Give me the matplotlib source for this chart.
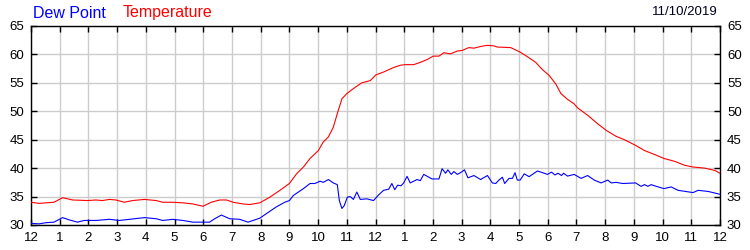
import matplotlib
matplotlib.use("Agg")
import matplotlib.pyplot as plt

plt.rcParams['font.family'] = ['Liberation Sans', 'DejaVu Sans']

# Hours since midnight and readings (deg F)
temp_hours = [0.0, 0.28, 0.80, 1.10, 1.45, 1.97, 2.26, 2.49, 2.73, 2.96, 3.25, 3.54, 3.95, 4.36, 4.59,
              4.94, 5.29, 5.64, 5.99, 6.28, 6.57, 6.81, 7.04, 7.39, 7.62, 7.97, 8.32, 8.67, 9.0, 9.25,
              9.49, 9.72, 10.01, 10.18, 10.36, 10.53, 10.67, 10.83, 11.0, 11.23, 11.52, 11.82, 12.01,
              12.28, 12.63, 12.87, 13.02, 13.33, 13.56, 13.80, 14.01, 14.21, 14.38, 14.61, 14.85,
              15.02, 15.25, 15.43, 15.66, 15.90, 16.13, 16.24, 16.71, 17.04, 17.29, 17.58, 17.82,
              18.05, 18.28, 18.46, 18.69, 18.92, 19.04, 19.39, 19.74, 20.05, 20.38, 20.67, 21.06,
              21.37, 21.72, 22.05, 22.42, 22.77, 23.06, 23.47, 23.82, 24.0]
temperature = [34.0, 33.8, 34.0, 34.8, 34.4, 34.3, 34.4, 34.3, 34.5, 34.4, 34.0, 34.3, 34.5, 34.3, 34.0,
               34.0, 33.9, 33.7, 33.3, 34.0, 34.4, 34.4, 34.0, 33.7, 33.6, 33.9, 34.9, 36.1, 37.3, 39.0,
               40.2, 41.7, 43.1, 44.6, 45.5, 47.2, 49.6, 52.2, 53.1, 54.0, 55.0, 55.4, 56.4,
               56.9, 57.7, 58.1, 58.2, 58.2, 58.6, 59.1, 59.7, 59.7, 60.3, 60.1, 60.6,
               60.7, 61.2, 61.1, 61.4, 61.6, 61.5, 61.3, 61.2, 60.4, 59.6, 58.6, 57.3,
               56.3, 54.8, 53.1, 52.1, 51.3, 50.6, 49.3, 47.8, 46.6, 45.6, 45.0, 44.0,
               43.1, 42.4, 41.7, 41.2, 40.5, 40.2, 40.0, 39.6, 39.1]

dew_hours = [0.0, 0.28, 0.51, 0.80, 1.10, 1.33, 1.62, 1.85, 2.26, 2.73, 3.08, 3.43, 3.95, 4.36, 4.59,
             4.94, 5.29, 5.64, 5.99, 6.22, 6.40, 6.63, 6.92, 7.27, 7.56, 7.97, 8.20, 8.55, 8.84, 9.0,
             9.14, 9.49, 9.72, 9.89, 10.07, 10.18, 10.36, 10.53, 10.67, 10.74, 10.83, 10.91, 11.02,
             11.12, 11.23, 11.35, 11.47, 11.70, 11.93, 12.11, 12.28, 12.46, 12.57, 12.67, 12.77,
             12.89, 12.98, 13.10, 13.21, 13.45, 13.56, 13.68, 13.86, 13.97, 14.21, 14.32, 14.44,
             14.52, 14.64, 14.73, 14.85, 14.96, 15.10, 15.22, 15.43, 15.66, 15.90, 16.07, 16.19,
             16.30, 16.42, 16.50, 16.65, 16.77, 16.86, 16.94, 17.04, 17.18, 17.35, 17.64, 17.82,
             17.99, 18.13, 18.25, 18.36, 18.48, 18.55, 18.69, 18.92, 19.16, 19.39, 19.62, 19.86,
             20.09, 20.21, 20.38, 20.61, 21.06, 21.25, 21.37, 21.49, 21.60, 21.78, 22.05, 22.30,
             22.54, 23.06, 23.24, 23.59, 24.0]
dew_point = [30.3, 30.2, 30.4, 30.5, 31.3, 30.9, 30.5, 30.8, 30.8, 31.0, 30.8, 31.0, 31.3, 31.1, 30.8,
             31.0, 30.8, 30.5, 30.5, 30.5, 31.1, 31.75, 31.1, 31.0, 30.5, 31.2, 32.0, 33.2, 34.0, 34.3,
             35.2, 36.4, 37.3, 37.3, 37.7, 37.5, 38.0, 37.4, 37.1, 34.3, 32.9, 33.4, 34.9,
             35.0, 34.5, 35.8, 34.5, 34.6, 34.3, 35.3, 36.1, 36.3, 37.3, 36.2, 37.0,
             36.9, 37.4, 38.55, 37.4, 38.0, 37.8, 38.9, 38.4, 38.1, 38.1, 39.9, 39.1,
             39.7, 38.9, 39.4, 38.9, 39.2, 39.7, 38.3, 38.7, 38.0, 38.7, 37.4, 37.3,
             37.9, 38.4, 37.3, 38.2, 38.2, 39.2, 37.9, 37.9, 39.0, 38.5, 39.5, 39.2,
             38.9, 39.3, 38.8, 39.1, 38.7, 39.1, 38.6, 38.9, 38.2, 38.7, 37.9, 37.4,
             37.9, 37.4, 37.5, 37.3, 37.4, 36.8, 37.1, 36.8, 37.1, 36.8, 36.4, 36.7,
             36.1, 35.7, 36.1, 35.9, 35.4]

x_ticks = list(range(0, 25))
x_labels = ['12', '1', '2', '3', '4', '5', '6', '7', '8', '9', '10', '11',
            '12', '1', '2', '3', '4', '5', '6', '7', '8', '9', '10', '11', '12']
y_ticks = [30, 35, 40, 45, 50, 55, 60, 65]
date_label = '11/10/2019'

fig = plt.figure(figsize=(7.5, 2.5), dpi=100)
ax = fig.add_axes([31/750, 25/250, (720-31)/750, (224.5-25.5)/250])

ax.plot(temp_hours, temperature, color='#ff0000', lw=0.8, zorder=3)
ax.plot(dew_hours, dew_point, color='#0000ff', lw=0.8, zorder=3)

ax.set_xlim(0, 24)
ax.set_ylim(30, 65)
ax.set_xticks(x_ticks)
ax.set_xticklabels(x_labels)
ax.set_yticks(y_ticks)
ax.grid(True, color='#cccccc', lw=1.0, zorder=0)
ax.set_axisbelow(True)
for s in ax.spines.values():
    s.set_linewidth(1.0)
    s.set_color('black')
ax.tick_params(axis='both', which='both', direction='in', length=4, width=1,
               top=True, right=True, labelright=True, labelsize=9.5, colors='black')
ax.tick_params(axis='x', pad=5)
ax.tick_params(axis='y', pad=5)

fig.text(33/750, 1 - 13/250, 'Dew Point', color='#0000ff', fontsize=11.5, va='center', ha='left')
fig.text(123/750, 1 - 13/250, 'Temperature', color='#ff0000', fontsize=11.5, va='center', ha='left')
fig.text(718/750, 1 - 12/250, date_label, color='#000022', fontsize=9.5, va='center', ha='right')

fig.savefig('out.png', dpi=100)
